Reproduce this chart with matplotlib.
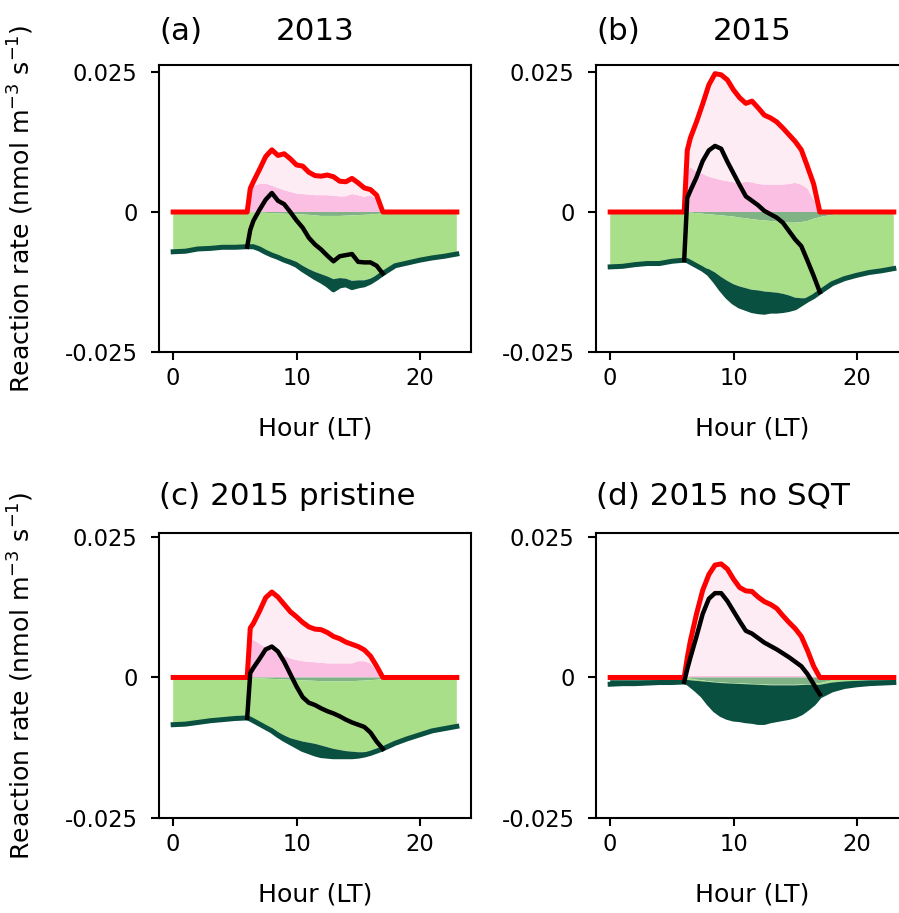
import numpy as np
import matplotlib.pyplot as plt

# hour of day (LT); half-hour steps through daylight
hours = [0, 1, 2, 3, 4, 5, 6, 6.25, 6.5, 7, 7.5, 8, 8.5, 9, 9.5, 10, 10.5, 11,
         11.5, 12, 12.5, 13, 13.5, 14, 14.5, 15, 15.5, 16, 16.5, 17,
         18, 19, 20, 21, 22, 23]
day_hours = hours[6:30]

# rates below are in 1e-3 nmol m-3 s-1
# production terms, stacked upwards (prod1 = dark pink, prod2 = light pink)
# loss terms, stacked downwards (loss1 = grey-green, loss2 = light green, loss3 = dark green)

# (a) 2013
prod1_2013 = [0, 0, 0, 0, 0, 0, 0, 3.8, 4.6, 5.0, 5.1, 4.7, 4.3, 3.9, 3.6, 3.3, 3.2, 3.1,
              3.0, 3.0, 3.0, 2.9, 2.8, 2.8, 3.2, 3.0, 2.7, 3.0, 2.4, 0, 0, 0, 0, 0, 0, 0]
prod2_2013 = [0, 0, 0, 0, 0, 0, 0, 0.4, 0.8, 2.6, 4.8, 6.4, 5.8, 6.5, 5.9, 5.1, 5.0, 4.0,
              3.5, 3.4, 3.6, 3.4, 2.7, 2.6, 2.8, 2.2, 1.6, 1.0, 0.6, 0, 0, 0, 0, 0, 0, 0]
loss1_2013 = [0, 0, 0, 0, 0, 0, 0, 0.05, 0.1, 0.1, 0.15, 0.2, 0.25, 0.3, 0.35, 0.4, 0.45, 0.5,
              0.6, 0.7, 0.7, 0.7, 0.7, 0.65, 0.6, 0.55, 0.5, 0.45, 0.35, 0.25, 0.05, 0, 0, 0, 0, 0]
loss2_2013 = [6.9, 6.8, 6.4, 6.3, 6.1, 6.1, 6.0, 5.95, 5.9, 6.3, 6.8, 7.2, 7.5, 7.9, 8.15, 8.5,
              9.15, 9.7, 10.1, 10.4, 10.8, 11.3, 11.1, 11.25, 11.7, 11.65, 11.7, 11.45, 11.05,
              10.45, 9.35, 8.9, 8.4, 8.0, 7.7, 7.3]
loss3_2013 = [0.2, 0.2, 0.2, 0.2, 0.2, 0.2, 0.2, 0.2, 0.2, 0.2, 0.25, 0.3, 0.35, 0.4, 0.5, 0.6,
              0.7, 0.8, 1.0, 1.2, 1.5, 1.9, 1.4, 1.1, 1.2, 1.0, 0.8, 0.6, 0.4, 0.3,
              0.2, 0.2, 0.2, 0.2, 0.2, 0.2]
net_2013 = [-6.2, -3.2, -1.6, 0.4, 2.2, 3.4, 2.0, 1.4, 0.0, -1.5, -2.8, -4.6, -5.8, -6.7,
            -7.8, -8.8, -7.9, -7.7, -7.5, -8.9, -9.0, -9.0, -9.6, -11.0]

# (b) 2015
prod1_2015 = [0, 0, 0, 0, 0, 0, 0, 7.0, 8.0, 7.2, 6.8, 6.3, 6.0, 5.7, 5.5, 5.3, 5.2, 5.4,
              5.3, 5.0, 4.9, 4.9, 4.9, 4.9, 5.0, 5.2, 4.9, 4.2, 2.2, 0, 0, 0, 0, 0, 0, 0]
prod2_2015 = [0, 0, 0, 0, 0, 0, 0, 4.0, 5.2, 8.9, 12.5, 16.4, 18.7, 18.8, 18.1, 16.5, 15.2,
              14.0, 14.5, 13.6, 12.4, 11.9, 11.2, 10.1, 8.8, 7.4, 6.2, 3.9, 2.8, 0,
              0, 0, 0, 0, 0, 0]
loss1_2015 = [0, 0, 0, 0, 0, 0, 0, 0.05, 0.1, 0.2, 0.3, 0.4, 0.5, 0.6, 0.7, 0.8, 1.0, 1.1,
              1.3, 1.4, 1.5, 1.6, 1.7, 1.8, 1.9, 1.9, 1.8, 1.6, 1.2, 0.9, 0.5, 0.2, 0.1, 0, 0, 0]
loss2_2015 = [9.7, 9.6, 9.3, 9.1, 9.1, 8.7, 8.5, 8.55, 8.8, 9.25, 9.6, 9.8, 10.3, 11.0, 11.6,
              12.1, 12.3, 12.5, 12.6, 12.6, 12.7, 12.7, 12.7, 12.8, 13.0, 13.4, 13.6, 13.8,
              13.8, 13.3, 12.2, 11.6, 11.1, 10.7, 10.4, 10.0]
loss3_2015 = [0.1, 0.1, 0.1, 0.1, 0.1, 0.1, 0.1, 0.1, 0.1, 0.15, 0.3, 0.8, 1.5, 2.2, 2.8, 3.2,
              3.5, 3.6, 3.7, 3.8, 3.7, 3.4, 3.3, 3.0, 2.5, 1.8, 1.0, 0.3, 0.1, 0.1,
              0.1, 0.1, 0.1, 0.1, 0.1, 0.1]
net_2015 = [-8.6, 2.5, 3.8, 6.2, 9.1, 11.0, 11.8, 11.3, 9.0, 6.9, 4.8, 2.8, 2.0, 1.2, 0.2,
            -0.4, -1.0, -1.9, -3.4, -4.9, -6.1, -8.7, -11.4, -14.3]

# (c) 2015 pristine
prod1_pristine = [0, 0, 0, 0, 0, 0, 0, 6.5, 6.7, 6.0, 5.3, 4.8, 4.2, 3.8, 3.4, 3.1, 2.9, 2.8,
                  2.7, 2.6, 2.5, 2.5, 2.5, 2.5, 2.5, 2.9, 2.9, 2.5, 1.2, 0, 0, 0, 0, 0, 0, 0]
prod2_pristine = [0, 0, 0, 0, 0, 0, 0, 2.3, 2.9, 5.8, 8.9, 10.4, 10.1, 9.2, 8.3, 7.7, 6.9,
                  6.2, 5.9, 5.9, 5.5, 4.8, 4.4, 3.8, 3.4, 2.6, 2.0, 1.3, 0.8, 0,
                  0, 0, 0, 0, 0, 0]
loss1_pristine = [0, 0, 0, 0, 0, 0, 0, 0.05, 0.1, 0.15, 0.2, 0.25, 0.3, 0.35, 0.4, 0.45, 0.5,
                  0.55, 0.6, 0.65, 0.7, 0.7, 0.7, 0.7, 0.65, 0.6, 0.55, 0.5, 0.4, 0.3,
                  0.1, 0, 0, 0, 0, 0]
loss2_pristine = [8.3, 8.2, 7.9, 7.6, 7.4, 7.2, 7.1, 7.25, 7.45, 7.95, 8.4, 8.75, 9.4, 9.95,
                  10.4, 10.65, 10.9, 11.05, 11.2, 11.45, 11.7, 12.0, 12.2, 12.4, 12.55, 12.7,
                  12.75, 12.7, 12.5, 12.3, 11.5, 10.8, 10.1, 9.4, 9.0, 8.6]
loss3_pristine = [0.1, 0.1, 0.1, 0.1, 0.1, 0.1, 0.1, 0.1, 0.15, 0.2, 0.3, 0.5, 0.6, 0.7, 0.8,
                  1.1, 1.4, 1.6, 1.8, 1.8, 1.6, 1.4, 1.2, 1.0, 0.9, 0.7, 0.5, 0.3, 0.2, 0.1,
                  0.1, 0.1, 0.1, 0.1, 0.1, 0.1]
net_pristine = [-7.2, 0.8, 1.7, 3.3, 5.0, 5.5, 4.6, 2.8, 0.6, -1.6, -3.5, -4.5, -4.9, -5.5,
                -6.0, -6.4, -6.9, -7.5, -8.0, -8.4, -8.8, -9.8, -11.4, -12.7]

# (d) 2015 no SQT
prod1_nosqt = [0, 0, 0, 0, 0, 0, 0, 0.1, 0.3, 0.3, 0.3, 0.3, 0.3, 0.3, 0.3, 0.3, 0.3, 0.3,
               0.3, 0.3, 0.3, 0.3, 0.3, 0.3, 0.3, 0.3, 0.3, 0.3, 0.2, 0, 0, 0, 0, 0, 0, 0]
prod2_nosqt = [0, 0, 0, 0, 0, 0, 0, 3.4, 6.2, 11.0, 15.2, 18.0, 19.7, 19.9, 19.0, 17.2, 15.7,
               15.1, 15.0, 14.0, 13.2, 12.7, 12.0, 10.7, 9.5, 8.4, 7.0, 4.5, 1.8, 0,
               0, 0, 0, 0, 0, 0]
loss1_nosqt = [0, 0, 0, 0, 0, 0, 0, 0.05, 0.2, 0.4, 0.5, 0.7, 0.8, 0.9, 0.95, 1.0, 1.05, 1.1,
               1.15, 1.2, 1.25, 1.3, 1.3, 1.3, 1.3, 1.3, 1.25, 1.2, 1.1, 1.0, 0.5, 0.2, 0.1,
               0, 0, 0]
loss2_nosqt = [0.5, 0.5, 0.5, 0.5, 0.5, 0.5, 0.4, 0.4, 0.3, 0.2, 0.2, 0.1, 0.1, 0.1, 0.1, 0.1,
               0.1, 0.1, 0.1, 0.1, 0.1, 0.1, 0.1, 0.1, 0.1, 0.1, 0.1, 0.1, 0.2, 0.3, 0.4, 0.5,
               0.5, 0.5, 0.5, 0.5]
loss3_nosqt = [0.7, 0.6, 0.6, 0.5, 0.4, 0.4, 0.4, 0.45, 0.8, 1.6, 2.5, 3.8, 4.9, 5.6, 6.05,
               6.3, 6.35, 6.5, 6.55, 6.7, 6.65, 6.3, 6.1, 5.9, 5.7, 5.4, 4.95, 4.2, 3.3, 2.0,
               1.3, 0.9, 0.7, 0.6, 0.5, 0.4]
net_nosqt = [-0.8, 1.5, 3.5, 7.3, 11.3, 14.0, 15.0, 15.0, 13.6, 11.8, 10.0, 8.3, 7.8, 7.0,
             6.2, 5.6, 5.0, 4.3, 3.6, 2.8, 2.0, 0.6, -1.2, -3.0]

titles = ['2013', '2015', '(c) 2015 pristine', '(d) 2015 no SQT']
tags = ['(a)', '(b)', None, None]

panels = [
    (prod1_2013, prod2_2013, loss1_2013, loss2_2013, loss3_2013, net_2013),
    (prod1_2015, prod2_2015, loss1_2015, loss2_2015, loss3_2015, net_2015),
    (prod1_pristine, prod2_pristine, loss1_pristine, loss2_pristine, loss3_pristine, net_pristine),
    (prod1_nosqt, prod2_nosqt, loss1_nosqt, loss2_nosqt, loss3_nosqt, net_nosqt),
]

pink_dark = '#fbbfe4'
pink_light = '#fdecf3'
green_grey = '#7fb285'
green_light = '#aadf8a'
green_dark = '#0a5040'

scale = 1e-3
x = np.array(hours)
xd = np.array(day_hours)

fig = plt.figure(figsize=(8.99, 9.13), dpi=100)
W, H = 899.0, 913.0
# axes boxes in pixels: left, top, right, bottom (right column runs past the edge)
boxes = [(159, 65, 471, 352), (596, 65, 908, 352),
         (159, 533, 471, 818), (596, 533, 908, 818)]
ytops = [0.02625, 0.02625, 0.0257, 0.0257]

for i, (p1, p2, l1, l2, l3, net) in enumerate(panels):
    l, t, r, b = boxes[i]
    ax = fig.add_axes([l / W, 1 - b / H, (r - l) / W, (b - t) / H])

    p1 = np.array(p1) * scale
    p2 = np.array(p2) * scale
    l1 = np.array(l1) * scale
    l2 = np.array(l2) * scale
    l3 = np.array(l3) * scale

    ax.stackplot(x, p1, p2, colors=[pink_dark, pink_light], linewidth=0)
    ax.stackplot(x, -l1, -l2, -l3, colors=[green_grey, green_light, green_dark],
                 linewidth=0)
    ax.plot(x, -(l1 + l2 + l3), color=green_dark, lw=3.6, zorder=3)
    ax.plot(x, p1 + p2, color='red', lw=3.6, zorder=4)
    ax.plot(xd, np.array(net) * scale, color='black', lw=3.2, zorder=5)

    ax.set_xlim(-1.15, 24.15)
    ax.set_ylim(-0.025, ytops[i])
    ax.set_xticks([0, 10, 20])
    ax.set_yticks([-0.025, 0, 0.025])
    ax.set_yticklabels(['-0.025', '0', '0.025'])
    ax.tick_params(labelsize=16.3, length=5.5, width=1.5)
    ax.tick_params(axis='y', pad=10)
    ax.tick_params(axis='x', pad=5.5)
    for sp in ax.spines.values():
        sp.set_linewidth(1.5)

    ax.set_xlabel('Hour (LT)', fontsize=18.2, labelpad=19)
    if i % 2 == 0:
        ax.set_ylabel('Reaction rate (nmol m$^{-3}$ s$^{-1}$)', fontsize=18.2)
        ax.yaxis.set_label_coords(-0.395, 0.5)

    pad = 18 if i < 2 else 20
    if tags[i]:
        ax.set_title(tags[i], loc='left', fontsize=22.3, pad=pad)
        ax.set_title(titles[i], fontsize=22.3, pad=pad)
    else:
        ax.set_title(titles[i], loc='left', fontsize=22.3, pad=pad)

fig.savefig('out.png', dpi=100)
